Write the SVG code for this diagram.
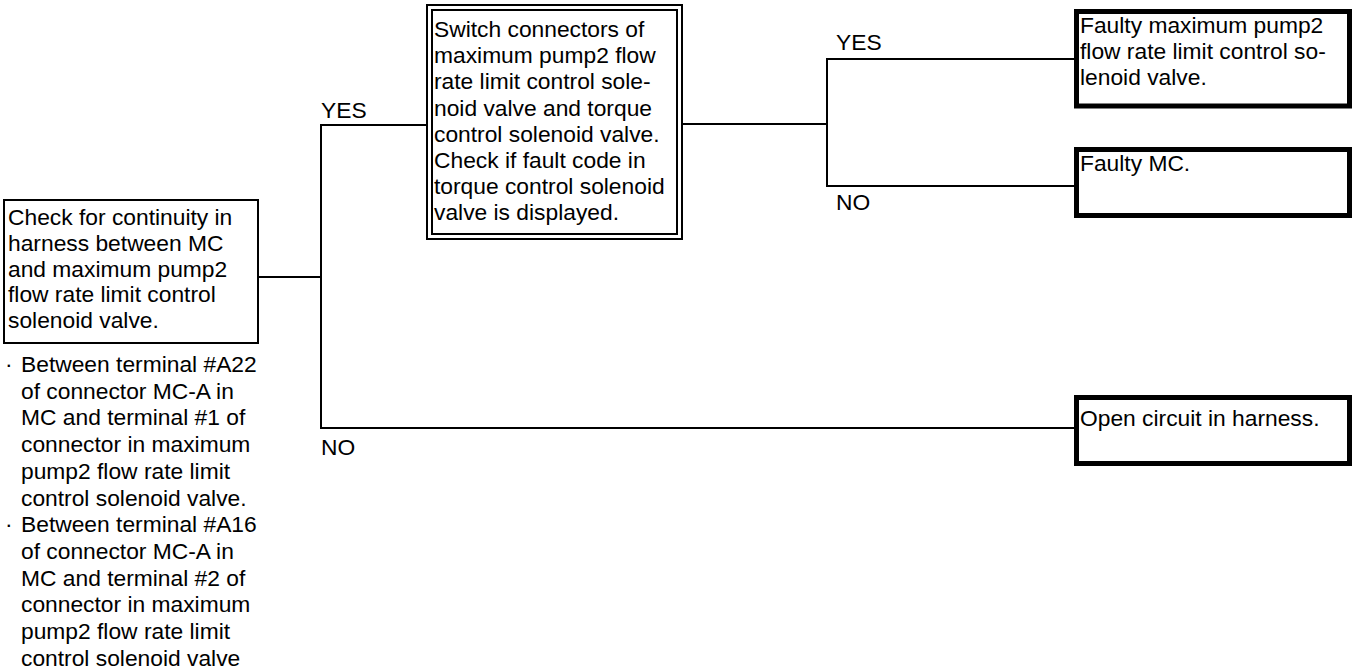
<svg xmlns="http://www.w3.org/2000/svg" width="1359" height="669" viewBox="0 0 1359 669">
  <style>
    text { font-family: "Liberation Sans", Arial, sans-serif; font-size: 22.8px; fill: #000; }
    .box { fill: #fff; stroke: #000; stroke-width: 2; }
    .result { fill: #fff; stroke: #000; stroke-width: 5; }
    .wire { fill: none; stroke: #000; stroke-width: 2; }
  </style>
  <rect width="1359" height="669" fill="#fff"/>

  <!-- connectors -->
  <g id="connectors">
    <polyline class="wire" points="258,277 321,277"/>
    <polyline class="wire" points="427,125 321,125 321,428 1075,428"/>
    <polyline class="wire" points="682,124 827,124"/>
    <polyline class="wire" points="1075,59 827,59 827,186 1075,186"/>
    <text x="321" y="118">YES</text>
    <text x="321" y="455">NO</text>
    <text x="836" y="50">YES</text>
    <text x="836" y="210">NO</text>
  </g>

  <!-- start: continuity check -->
  <g id="check-continuity">
    <rect class="box" x="4" y="200" width="254" height="143"/>
    <text>
      <tspan x="8" y="225">Check for continuity in</tspan>
      <tspan x="8" y="251">harness between MC</tspan>
      <tspan x="8" y="277">and maximum pump2</tspan>
      <tspan x="8" y="302">flow rate limit control</tspan>
      <tspan x="8" y="328">solenoid valve.</tspan>
    </text>
  </g>

  <!-- terminal notes under the start box -->
  <g id="terminal-notes">
    <text>
      <tspan x="5" y="372">·</tspan><tspan x="21" y="372">Between terminal #A22</tspan>
      <tspan x="21" y="398.7">of connector MC-A in</tspan>
      <tspan x="21" y="425.4">MC and terminal #1 of</tspan>
      <tspan x="21" y="452.1">connector in maximum</tspan>
      <tspan x="21" y="478.8">pump2 flow rate limit</tspan>
      <tspan x="21" y="505.5">control solenoid valve.</tspan>
      <tspan x="5" y="532.2">·</tspan><tspan x="21" y="532.2">Between terminal #A16</tspan>
      <tspan x="21" y="558.9">of connector MC-A in</tspan>
      <tspan x="21" y="585.6">MC and terminal #2 of</tspan>
      <tspan x="21" y="612.3">connector in maximum</tspan>
      <tspan x="21" y="639">pump2 flow rate limit</tspan>
      <tspan x="21" y="665.7">control solenoid valve</tspan>
    </text>
  </g>

  <!-- switch connectors step (double border) -->
  <g id="switch-connectors">
    <rect class="box" x="427" y="5" width="255" height="234"/>
    <rect class="box" x="432" y="10" width="245" height="224"/>
    <text>
      <tspan x="434" y="37">Switch connectors of</tspan>
      <tspan x="434" y="63.2">maximum pump2 flow</tspan>
      <tspan x="434" y="89.4">rate limit control sole-</tspan>
      <tspan x="434" y="115.6">noid valve and torque</tspan>
      <tspan x="434" y="141.8">control solenoid valve.</tspan>
      <tspan x="434" y="168">Check if fault code in</tspan>
      <tspan x="434" y="194.2">torque control solenoid</tspan>
      <tspan x="434" y="220.4">valve is displayed.</tspan>
    </text>
  </g>

  <!-- results -->
  <g id="faulty-valve">
    <rect class="result" x="1076.5" y="11.5" width="273" height="94.5"/>
    <text>
      <tspan x="1080" y="33">Faulty maximum pump2</tspan>
      <tspan x="1080" y="59">flow rate limit control so-</tspan>
      <tspan x="1080" y="85">lenoid valve.</tspan>
    </text>
  </g>
  <g id="faulty-mc">
    <rect class="result" x="1076.5" y="149.5" width="273" height="66"/>
    <text x="1080" y="171">Faulty MC.</text>
  </g>
  <g id="open-circuit">
    <rect class="result" x="1076.5" y="397.5" width="273" height="66"/>
    <text x="1080" y="426">Open circuit in harness.</text>
  </g>
</svg>
